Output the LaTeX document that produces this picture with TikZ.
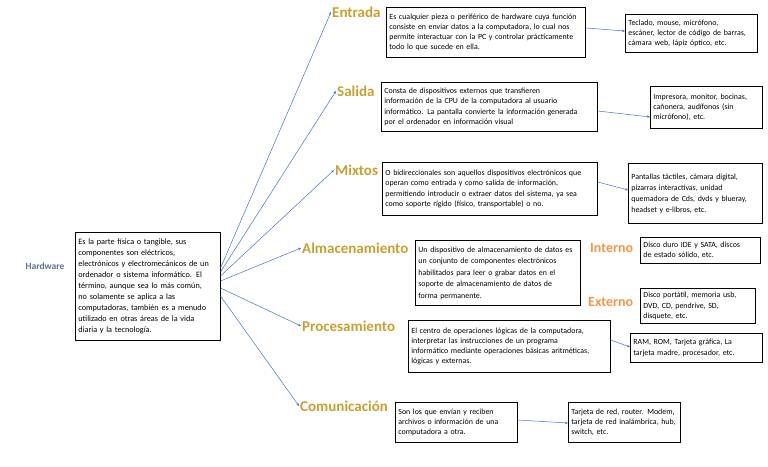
\documentclass[tikz,border=0pt]{standalone}
\usepackage{fontspec}
\setmainfont{Carlito}
\usetikzlibrary{arrows.meta}
\definecolor{gold}{HTML}{C9A030}
\definecolor{orng}{HTML}{F79646}
\definecolor{arr}{HTML}{4472C4}
\definecolor{hw}{HTML}{5E7391}
\tikzset{
  box/.style={draw=black, line width=0.8pt, anchor=north west, inner sep=3pt, align=left, font=\fontsize{7.9}{10.2}\selectfont},
  cat/.style={anchor=west, inner sep=1pt, font=\fontsize{15}{17}\selectfont\bfseries, text=gold},
  sub/.style={anchor=west, inner sep=1pt, font=\fontsize{14}{16}\selectfont\bfseries, text=orng},
  link/.style={draw=arr, line width=0.5pt, -{Stealth[length=3pt,width=2.5pt]}}
}
\begin{document}
\begin{tikzpicture}[x=1pt,y=-1pt]
\useasboundingbox (0,0) rectangle (768,466);
\node[anchor=center, font=\fontsize{9.5}{11}\selectfont\bfseries, text=hw] (hw) at (45,266) {Hardware};
\node[box, text width=139pt, minimum height=108pt, font=\fontsize{8.2}{11}\selectfont] (def) at (75,232) {Es la parte física o tangible, sus\\componentes son eléctricos,\\electrónicos y electromecánicos de un\\ordenador o sistema informático. El\\término, aunque sea lo más común,\\no solamente se aplica a las\\computadoras, también es a menudo\\utilizado en otras áreas de la vida\\diaria y la tecnología.};
% categories
\node[cat] (ent) at (331,12) {Entrada};
\node[cat] (sal) at (336,91) {Salida};
\node[cat] (mix) at (334,170) {Mixtos};
\node[cat] (alm) at (301,248) {Almacenamiento};
\node[cat] (pro) at (301,326) {Procesamiento};
\node[cat] (com) at (299,406) {Comunicación};
\coordinate (s1) at (220.5,268);
\coordinate (s2) at (220.5,272);
\coordinate (s3) at (220.5,276);
\coordinate (s4) at (220.5,281);
\coordinate (s5) at (220.5,288);
\coordinate (s6) at (220.5,296);
\draw[link] (s1) -- (ent.west);
\draw[link] (s2) -- (sal.west);
\draw[link] (s3) -- (mix.west);
\draw[link] (s4) -- (alm.west);
\draw[link] (s5) -- (pro.west);
\draw[link] (s6) -- (com.west);
% descriptions
\node[box, text width=193pt, minimum height=50pt] (entd) at (386,7) {Es cualquier pieza o periférico de hardware cuya función\\consiste en enviar datos a la computadora, lo cual nos\\permite interactuar con la PC y controlar prácticamente\\todo lo que sucede en ella.};
\node[box, text width=210pt, minimum height=49pt] (sald) at (381,82) {Consta de dispositivos externos que transfieren\\información de la CPU de la computadora al usuario\\informático. La pantalla convierte la información generada\\por el ordenador en información visual};
\node[box, text width=209pt, minimum height=53pt] (mixd) at (382,162) {O bidireccionales son aquellos dispositivos electrónicos que\\operan como entrada y como salida de información,\\permitiendo introducir o extraer datos del sistema, ya sea\\como soporte rígido (físico, transportable) o no.};
\node[box, text width=159pt, minimum height=65pt, font=\fontsize{7.9}{11.5}\selectfont] (almd) at (415,240) {Un dispositivo de almacenamiento de datos es\\un conjunto de componentes electrónicos\\habilitados para leer o grabar datos en el\\soporte de almacenamiento de datos de\\forma permanente.};
\node[box, text width=196pt, minimum height=52pt] (prod) at (408,320) {El centro de operaciones lógicas de la computadora,\\interpretar las instrucciones de un programa\\informático mediante operaciones básicas aritméticas,\\lógicas y externas.};
\node[box, text width=116pt, minimum height=40pt] (comd) at (395,402) {Son los que envían y reciben\\archivos o información de una\\computadora a otra.};
% examples
\node[box, text width=126pt, minimum height=38pt] (ente) at (625,14) {Teclado, mouse, micrófono,\\escáner, lector de código de barras,\\cámara web, lápiz óptico, etc.};
\node[box, text width=106pt, minimum height=42pt] (sale) at (650,86) {Impresora, monitor, bocinas,\\cañonera, audífonos (sin\\micrófono), etc.};
\node[box, text width=128pt, minimum height=60pt, font=\fontsize{7.9}{11}\selectfont] (mixe) at (628,163) {Pantallas táctiles, cámara digital,\\pizarras interactivas, unidad\\quemadora de Cds, dvds y blueray,\\headset y e-libros, etc.};
\node[sub] (int) at (589,248) {Interno};
\node[sub] (ext) at (587,302) {Externo};
\node[box, text width=114pt, minimum height=26pt] (inte) at (640,237) {Disco duro IDE y SATA, discos\\de estado sólido, etc.};
\node[box, text width=109pt, minimum height=35pt] (exte) at (640,288) {Disco portátil, memoria usb,\\DVD, CD, pendrive, SD,\\disquete, etc.};
\node[box, text width=126pt, minimum height=29pt] (proe) at (630,333) {RAM, ROM, Tarjeta gráfica, La\\tarjeta madre, procesador, etc.};
\node[box, text width=106pt, minimum height=40pt] (come) at (568,402) {Tarjeta de red, router. Modem,\\tarjeta de red inalámbrica, hub,\\switch, etc.};
% arrows
\draw[link] (entd.east |- 0,28) -- (ente.west |- 0,31);
\draw[link] (sald.east |- 0,111) -- (sale.west |- 0,117);
\draw[link] (mixd.east |- 0,182) -- (mixe.west |- 0,190);
\draw[link] (prod.east |- 0,340) -- (proe.west |- 0,347);
\draw[link] (comd.east |- 0,420) -- (come.west |- 0,423);
\end{tikzpicture}
\end{document}
